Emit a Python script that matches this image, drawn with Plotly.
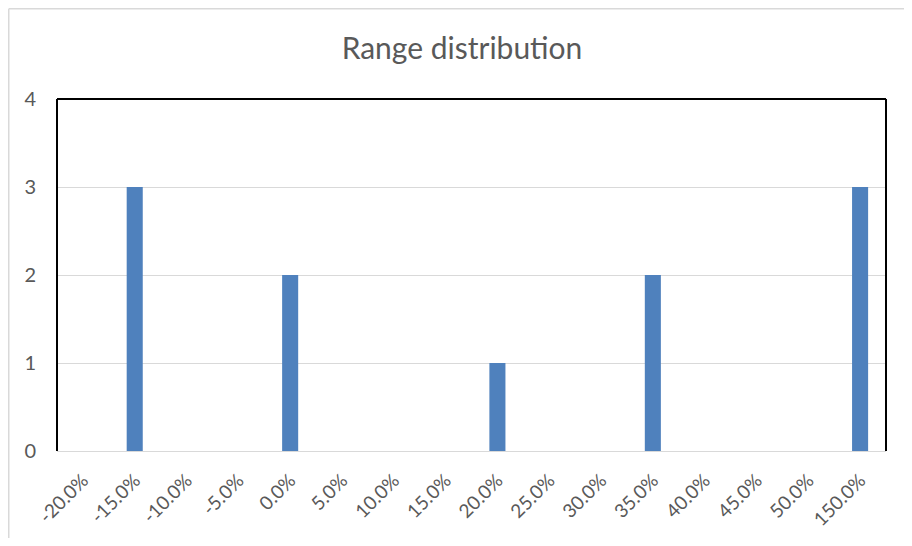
import plotly.graph_objects as go

categories = ["-20.0%", "-15.0%", "-10.0%", "-5.0%", "0.0%", "5.0%", "10.0%", "15.0%",
              "20.0%", "25.0%", "30.0%", "35.0%", "40.0%", "45.0%", "50.0%", "150.0%"]
counts = [0, 3, 0, 0, 2, 0, 0, 0, 1, 0, 0, 2, 0, 0, 0, 3]
y_ticks = [0, 1, 2, 3, 4]

# page has an 8px body margin; figure is placed at (8, 8)
OFF = 8
W, H = 912 - 2 * OFF, 546 - 2 * OFF
# target plot area in page pixels: x 57..886, y 99..451
L = 57 - OFF
T = 99 - OFF
R = W - (886 - OFF)
B = H - (451 - OFF)
pw, ph = W - L - R, H - T - B

def px(x):  # figure pixel -> paper x
    return (x - L) / pw

def py(y):  # figure pixel -> paper y
    return (H - B - y) / ph

FONT = "Lato"
GREY = "#595959"
BORDER = "#D9D9D9"

fig = go.Figure(go.Bar(x=categories, y=counts, marker=dict(color="#4F81BD", line=dict(width=0))))

fig.update_layout(
    width=W, height=H,
    margin=dict(l=L, r=R, t=T, b=B, autoexpand=False),
    paper_bgcolor="white", plot_bgcolor="white",
    bargap=0.69,
    showlegend=False,
    title=dict(text="Range distribution", x=px(462 - OFF), xref="paper", xanchor="center",
               y=1 - (48 - OFF) / H, yanchor="middle",
               font=dict(family=FONT, size=30, color=GREY)),
    font=dict(family=FONT, color=GREY),
    xaxis=dict(type="category", tickangle=-45, tickfont=dict(size=19, color=GREY),
               showline=True, linecolor=BORDER, linewidth=1, showgrid=False, automargin=False,
               ticks="outside", ticklen=10, tickcolor="rgba(0,0,0,0)"),
    yaxis=dict(range=[0, 4], tickvals=y_ticks, tickfont=dict(size=20, color=GREY),
               showgrid=True, gridcolor=BORDER, gridwidth=1, zeroline=False, automargin=False,
               showline=False, ticklabelstandoff=20),
    shapes=[
        # chart outer border (top and left edges visible)
        dict(type="line", xref="paper", yref="paper", x0=px(0.75), x1=px(W), y0=py(0.75), y1=py(0.75),
             line=dict(color=BORDER, width=1.5), layer="below"),
        dict(type="line", xref="paper", yref="paper", x0=px(0.75), x1=px(0.75), y0=py(H), y1=py(0.75),
             line=dict(color=BORDER, width=1.5), layer="below"),
        # plot area black border (top, left, right)
        dict(type="line", xref="paper", yref="paper", x0=0, x1=1, y0=1, y1=1, line=dict(color="black", width=2)),
        dict(type="line", xref="paper", yref="paper", x0=0, x1=0, y0=0, y1=1, line=dict(color="black", width=2)),
        dict(type="line", xref="paper", yref="paper", x0=1, x1=1, y0=0, y1=1, line=dict(color="black", width=2)),
    ],
)

fig.write_html("out.html")
